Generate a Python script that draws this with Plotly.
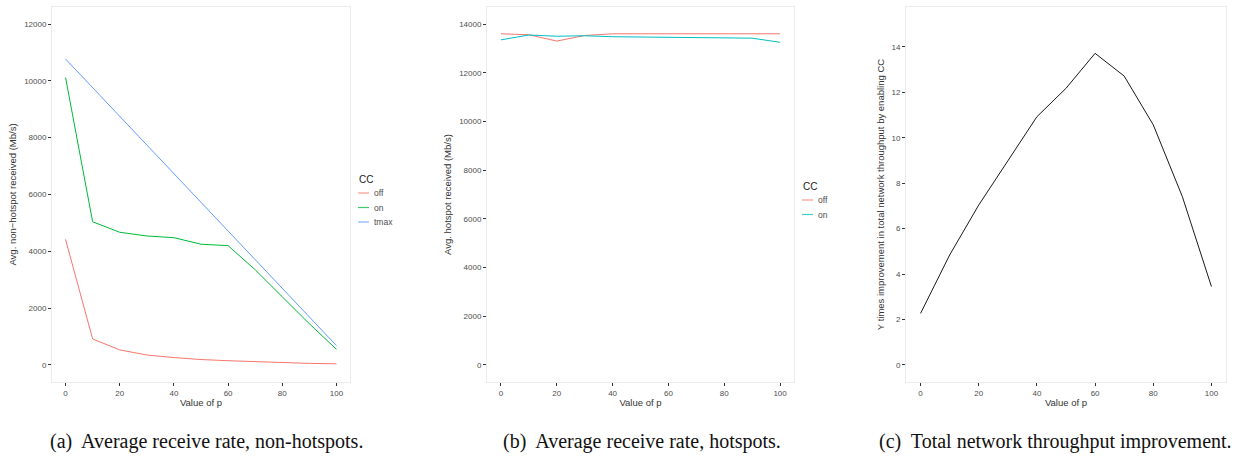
import plotly.graph_objects as go

p = [0, 10, 20, 30, 40, 50, 60, 70, 80, 90, 100]

# (a) non-hotspot receive rate
a_off = [4420, 915, 530, 350, 260, 190, 150, 110, 80, 55, 40]
a_on = [10120, 5040, 4670, 4540, 4480, 4250, 4200, 3350, 2400, 1450, 550]
a_tmax = [10770, 9760, 8750, 7750, 6740, 5730, 4720, 3710, 2700, 1690, 680]

# (b) hotspot receive rate
b_off = [13600, 13560, 13300, 13530, 13600, 13600, 13600, 13600, 13600, 13600, 13600]
b_on = [13350, 13550, 13500, 13520, 13480, 13470, 13480, 13470, 13440, 13420, 13250]

# (c) improvement factor
c_imp = [2.27, 4.84, 7.04, 8.98, 10.93, 12.18, 13.72, 12.72, 10.57, 7.41, 3.45]

y_ticks_a = [0, 2000, 4000, 6000, 8000, 10000, 12000]
y_ticks_b = [0, 2000, 4000, 6000, 8000, 10000, 12000, 14000]
y_ticks_c = [0, 2, 4, 6, 8, 10, 12, 14]
x_ticks = [0, 20, 40, 60, 80, 100]

legend_a_names = ["off", "on", "tmax"]
legend_b_names = ["off", "on"]

captions = ["(a)&nbsp; Average receive rate, non-hotspots.",
            "(b)&nbsp; Average receive rate, hotspots.",
            "(c)&nbsp; Total network throughput improvement."]

RED, GREEN, BLUE, CYAN = "#F8766D", "#00BA38", "#619CFF", "#00BFC4"
colors_a = [RED, GREEN, BLUE]
colors_b = [RED, CYAN]

W, H = 1252, 457
FONT = "Liberation Sans, Arial, sans-serif"


def fx(px):
    return px / W


def fy(py):
    return min(1.0, max(0.0, 1 - py / H))


fig = go.Figure()

for name, ys, col in zip(legend_a_names, [a_off, a_on, a_tmax], colors_a):
    fig.add_trace(go.Scatter(x=p, y=ys, mode="lines", name=name, line=dict(color=col, width=1),
                             xaxis="x", yaxis="y", showlegend=False))
for name, ys, col in zip(legend_b_names, [b_off, b_on], colors_b):
    fig.add_trace(go.Scatter(x=p, y=ys, mode="lines", name=name, line=dict(color=col, width=1),
                             xaxis="x2", yaxis="y2", showlegend=False))
fig.add_trace(go.Scatter(x=p, y=c_imp, mode="lines", name="improvement", line=dict(color="#1a1a1a", width=1),
                         xaxis="x3", yaxis="y3", showlegend=False))

ydom = [fy(382), fy(7)]


def xa(x0, x1, anchor):
    return dict(domain=[fx(x0), fx(x1)], anchor=anchor, range=[-5, 105], tickvals=x_ticks,
                showgrid=False, zeroline=False, showline=True, mirror=True, linecolor="#EBEBEB",
                linewidth=1, ticks="outside", ticklen=3, tickcolor="#333333",
                tickfont=dict(size=8, color="#4D4D4D", family=FONT),
                title=dict(text="Value of p", font=dict(size=9.5, color="#333333", family=FONT), standoff=2))


def ya(rng, ticks, title, anchor):
    return dict(domain=ydom, anchor=anchor, range=rng, tickvals=ticks, tickformat="d",
                showgrid=False, zeroline=False, showline=True, mirror=True, linecolor="#EBEBEB",
                linewidth=1, ticks="outside", ticklen=3, tickcolor="#333333",
                tickfont=dict(size=8, color="#4D4D4D", family=FONT),
                title=dict(text=title, font=dict(size=9.5, color="#333333", family=FONT), standoff=5))


fig.update_layout(
    width=W, height=H, margin=dict(l=0, r=0, t=0, b=0),
    paper_bgcolor="white", plot_bgcolor="white",
    font=dict(family=FONT), showlegend=False,
    xaxis=xa(52, 350, "y"),
    yaxis=ya([-600, 12600], y_ticks_a, "Avg. non\u2212hotspot received (Mb/s)", "x"),
    xaxis2=xa(487, 794, "y2"),
    yaxis2=ya([-700, 14700], y_ticks_b, "Avg. hotspot received (Mb/s)", "x2"),
    xaxis3=xa(906, 1226, "y3"),
    yaxis3=ya([-0.75, 15.76], y_ticks_c, "Y times improvement in total network throughput by enabling CC", "x3"),
)


def add_legend(x0, y_title, names, cols, step):
    fig.add_annotation(x=fx(x0), y=fy(y_title), xref="paper", yref="paper", text="CC", showarrow=False,
                       xanchor="left", yanchor="middle",
                       font=dict(size=10, color="#1a1a1a", family=FONT))
    for i, (n, c) in enumerate(zip(names, cols)):
        yy = y_title + 14 + i * step
        fig.add_shape(type="line", xref="paper", yref="paper", x0=fx(x0 + 1), x1=fx(x0 + 12),
                      y0=fy(yy), y1=fy(yy), line=dict(color=c, width=1.2), opacity=0.75)
        fig.add_annotation(x=fx(x0 + 15), y=fy(yy), xref="paper", yref="paper", text=n, showarrow=False,
                           xanchor="left", yanchor="middle",
                           font=dict(size=8.5, color="#4D4D4D", family=FONT))


add_legend(357, 179, legend_a_names, colors_a, 14.5)
add_legend(801, 186, legend_b_names, colors_b, 14.5)

cap_x = [206, 642, 1055]
for cx, txt in zip(cap_x, captions):
    fig.add_annotation(x=fx(cx), y=fy(441), xref="paper", yref="paper", text=txt, showarrow=False,
                       xanchor="center", yanchor="middle",
                       font=dict(size=20, color="#111111", family="Liberation Serif, Times New Roman, serif"))

fig.write_html("out.html", config={"displayModeBar": False},
               post_script="document.body.style.margin='0px';document.body.style.padding='0px';"
                           "document.documentElement.style.overflow='hidden';")
